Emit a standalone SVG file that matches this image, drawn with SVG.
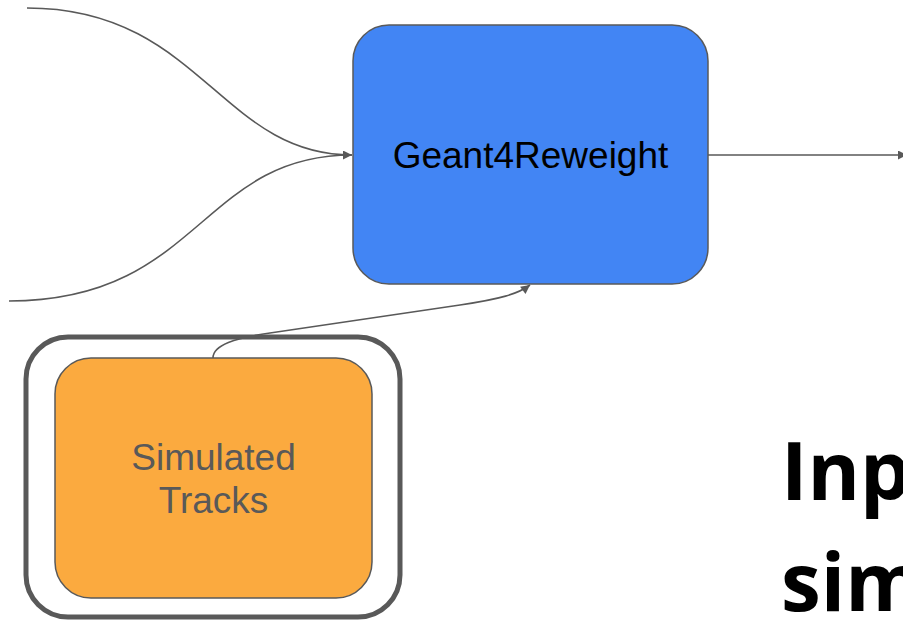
<svg xmlns="http://www.w3.org/2000/svg" width="903" height="622" viewBox="0 0 903 622">
  <style>
    .edge { fill: none; stroke: #595959; stroke-width: 1.6; }
    .node { stroke: #595959; stroke-width: 1.5; }
    .label { font-family: "Liberation Sans", Arial, sans-serif; font-size: 37px; text-anchor: middle; }
    .title { font-family: "Open Sans", "Noto Sans", sans-serif; font-weight: bold; font-size: 80px; fill: #000; }
  </style>
  <defs>
    <marker id="arrow" viewBox="0 0 10 10" refX="10" refY="5" markerWidth="11" markerHeight="9" markerUnits="userSpaceOnUse" orient="auto">
      <path d="M0,0 L10,5 L0,10 z" fill="#595959"/>
    </marker>
  </defs>
  <rect width="903" height="622" fill="#ffffff"/>

  <g id="connectors">
    <path class="edge" d="M27,8 C200,8 220,155 352,155" marker-end="url(#arrow)"/>
    <path class="edge" d="M9,301 C200,301 200,155 352,155"/>
    <path class="edge" d="M708,155 L907,155" marker-end="url(#arrow)"/>
    <path class="edge" d="M213,358 C213,345 235,338 270,333 L460,305 C500,299 518,294 530,285" marker-end="url(#arrow)"/>
  </g>

  <g id="geant4reweight">
    <rect class="node" x="353" y="25" width="355" height="259" rx="36" ry="36" fill="#4285f4"/>
    <text class="label" x="530.5" y="168" fill="#000000">Geant4Reweight</text>
  </g>

  <g id="simulated-tracks">
    <rect x="26" y="337" width="374" height="280" rx="42" ry="42" fill="none" stroke="#595959" stroke-width="5"/>
    <rect class="node" x="55" y="358" width="317" height="240" rx="36" ry="36" fill="#fbaa3f"/>
    <text class="label" x="213.5" y="470" fill="#595959">Simulated</text>
    <text class="label" x="213.5" y="513" fill="#595959">Tracks</text>
  </g>

  <g id="caption">
    <text class="title" x="781" y="500">Inp</text>
    <text class="title" x="781" y="611">sim</text>
  </g>
</svg>
